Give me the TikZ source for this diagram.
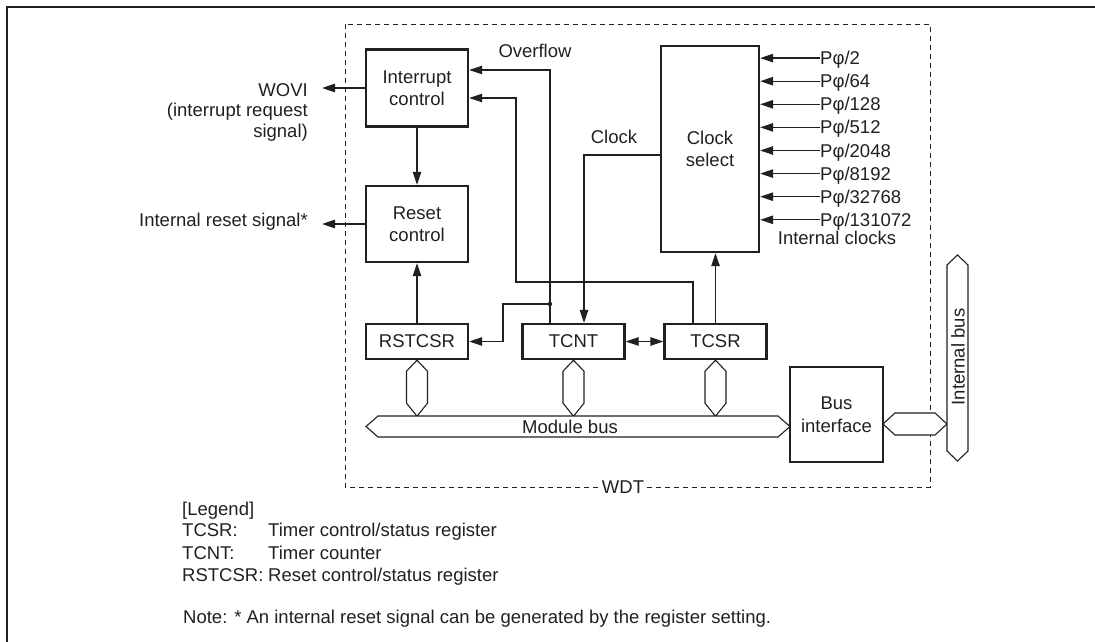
\documentclass[tikz,border=0pt]{standalone}
\usepackage{fontspec}
\setmainfont{Liberation Sans}
\usetikzlibrary{arrows.meta, calc}
\definecolor{ink}{RGB}{35, 31, 32}

\begin{document}
\begin{tikzpicture}[
                x=1pt, y=-1pt,
                every node/.style={font=\fontsize{18.5}{22.5}\selectfont, text=ink},
                block/.style={draw=ink, line width=2.4pt, minimum width=102pt, minimum height=35pt, inner sep=0pt, align=center},
                sig/.style={draw=ink, line width=1.2pt, -{Triangle[length=13pt, width=8.5pt]}},
                busline/.style={draw=ink, line width=1.1pt, fill=white},
                lbl/.style={inner sep=0pt, anchor=base west}
            ]
                \useasboundingbox (0,0) rectangle (1095,642);
                % Page frame
                \draw[ink, line width=2.5pt] (7,642) -- (7,7) -- (1095,7);

                % WDT module outline
                \draw[ink, line width=0.9pt, dash pattern=on 5pt off 4pt] (345,24) rectangle (930,487);
                \node[fill=white, inner sep=1pt] (wdt) at (623,487) {WDT};

                % Control blocks
                \node[block, minimum height=77pt] (intc) at (417,88) {Interrupt\\control};
                \node[block, minimum height=76pt] (rstc) at (417,224) {Reset\\control};
                \node[block, minimum width=98pt, minimum height=206pt] (clksel) at (710,149) {Clock\\select};

                % Registers
                \node[block] (rstcsr) at (417,341.5) {RSTCSR};
                \node[block] (tcnt) at (573.5,341.5) {TCNT};
                \node[block] (tcsr) at (715.5,341.5) {TCSR};
                \node[block, minimum width=93pt, minimum height=95pt] (busif) at (836.5,414.5) {Bus\\interface};

                % Outgoing signals
                \node[anchor=north east, align=right, inner sep=0pt, font=\fontsize{18.5}{20.5}\selectfont] (wovi) at (308,83) {WOVI\\(interrupt request\\signal)};
                \node[anchor=east, inner sep=0pt] (rstsig) at (308,222) {Internal reset signal*};
                \draw[sig, shorten >=14pt] (intc.west) -- (intc.west -| wovi.east);
                \draw[sig, shorten >=14pt] (rstc.west) -- (rstc.west -| rstsig.east);
                \draw[sig] (intc.south) -- (rstc.north);
                \draw[sig] (rstcsr.north) -- (rstc.south);

                % Overflow from TCNT
                \coordinate (ovf) at (550,70);
                \coordinate (tap) at (550,304);
                \coordinate (brk) at (503,304);
                \node (ovflbl) at (535,51) {Overflow};
                \draw[sig] (ovf |- tcnt.north) -- (ovf) -- (ovf -| intc.east);
                \fill[ink] (tap) circle (2.2pt);
                \draw[sig] (tap) -- (brk) |- (rstcsr.east);

                % TCSR to interrupt control
                \coordinate (tcr) at (693,282);
                \coordinate (icr) at (516,98);
                \draw[sig] (tcr |- tcsr.north) -- (tcr) -| (icr) -- (icr -| intc.east);

                % Clock to TCNT
                \coordinate (clk) at (584,155);
                \node (clklbl) at (614,137) {Clock};
                \draw[sig] (clk -| clksel.west) -- (clk) -- (clk |- tcnt.north);
                \draw[sig] (tcsr.north) -- (tcsr.north |- clksel.south);
                \draw[sig, {Triangle[length=13pt, width=8.5pt]}-{Triangle[length=13pt, width=8.5pt]}] (tcnt.east) -- (tcsr.west);

                % Internal clocks
                \foreach \dv [count=\i] in {2,64,128,512,2048,8192,32768,131072} {
                    \node[lbl] (ck\i) at (820,41.5+23.1*\i) {Pφ/\dv};
                    \draw[sig] ([yshift=6.5pt]ck\i.base west) -- ([yshift=6.5pt]ck\i.base west -| clksel.east);
                }
                \node (iclk) at (837,238) {Internal clocks};

                % Buses
                \foreach \n in {rstcsr,tcnt,tcsr}
                    \draw[busline] (\n.south) -- ++(10.5,11) -- ++(0,32) -- ++(-10.5,13) -- ++(-10.5,-13) -- ++(0,-32) -- cycle;
                \draw[busline] (366,426.5) -- (378,416) -- (778,416) -- (790,426.5) -- (778,437) -- (378,437) -- cycle;
                \node[inner sep=0pt] (mbus) at (570,427) {Module bus};
                \draw[busline] (883,424) -- (895,413) -- (935,413) -- (947,424) -- (935,435) -- (895,435) -- cycle;
                \draw[busline] (957.5,255) -- (968,265) -- (968,451) -- (957.5,461) -- (947,451) -- (947,265) -- cycle;
                \node[rotate=90, inner sep=0pt] (ibus) at (958,357) {Internal bus};

                % Legend
                \node[lbl] (lgd) at (182,515.5) {[Legend]};
                \node[lbl] (lgd1) at (182,536.5) {TCSR:};
                \node[lbl] (lgd1t) at (268,536.5) {Timer control/status register};
                \node[lbl] (lgd2) at (182,559.5) {TCNT:};
                \node[lbl] (lgd2t) at (268,559.5) {Timer counter};
                \node[lbl] (lgd3) at (182,581.5) {RSTCSR:};
                \node[lbl] (lgd3t) at (268,581.5) {Reset control/status register};
                \node[lbl] (note) at (183,623.5) {Note: * An internal reset signal can be generated by the register setting.};
            \end{tikzpicture}
\end{document}
